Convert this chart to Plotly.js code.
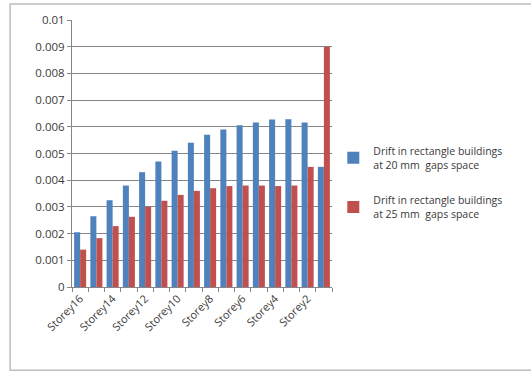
<!DOCTYPE html>
<html>
<head>
<meta charset="utf-8">
<script src="https://cdn.plot.ly/plotly-3.0.1.min.js"></script>
<style>html,body{margin:0;padding:0;background:#fff;}#chart{width:531px;height:373px;}</style>
</head>
<body>
<div id="chart"></div>
<script>
const categories = ["Storey16","Storey15","Storey14","Storey13","Storey12","Storey11","Storey10","Storey9","Storey8","Storey7","Storey6","Storey5","Storey4","Storey3","Storey2","Storey1"];
const tickLabels = ["Storey16","","Storey14","","Storey12","","Storey10","","Storey8","","Storey6","","Storey4","","Storey2",""];
const drift20 = [0.00205,0.00265,0.00325,0.0038,0.0043,0.0047,0.0051,0.0054,0.0057,0.0059,0.00606,0.00616,0.00627,0.00628,0.00616,0.0045];
const drift25 = [0.0014,0.00183,0.00228,0.00263,0.003,0.00323,0.00345,0.0036,0.0037,0.00378,0.0038,0.0038,0.00378,0.0038,0.0045,0.009];
const seriesNames = ["Drift in rectangle buildings<br>at 20 mm  gaps space","Drift in rectangle buildings<br>at 25 mm  gaps space"];

const traces = [
  {type:"bar", x:categories, y:drift20, name:seriesNames[0], legendgroup:"g1", marker:{color:"#4F81BD"}},
  {type:"bar", x:categories, y:drift25, name:seriesNames[1], legendgroup:"g2", marker:{color:"#C0504D"}}
];
const layout = {
  width:531, height:373,
  margin:{l:72, r:199, t:20, b:86},
  paper_bgcolor:"#ffffff", plot_bgcolor:"#ffffff",
  font:{family:"Open Sans, sans-serif", size:11, color:"#3a3a3a"},
  barmode:"group", bargap:0.26, bargroupgap:0,
  showlegend:true,
  legend:{x:1.005, y:0.56, xanchor:"left", yanchor:"top", font:{size:10.5, color:"#3a3a3a"}, tracegroupgap:19, itemwidth:30, bgcolor:"rgba(0,0,0,0)"},
  xaxis:{type:"category", tickvals:categories, ticktext:tickLabels, tickangle:-45, ticks:"outside", tickson:"boundaries", ticklen:4, tickcolor:"#868686", showline:true, linecolor:"#868686", showgrid:false, tickfont:{size:11, color:"#3a3a3a"}},
  yaxis:{range:[0,0.01], dtick:0.001, tick0:0, ticks:"outside", ticklen:4, tickcolor:"#868686", showline:true, linecolor:"#868686", gridcolor:"#868686", gridwidth:1, zeroline:false, tickfont:{size:11.5, color:"#3a3a3a"}},
  shapes:[{type:"rect", xref:"paper", yref:"paper", x0:-0.238, x1:1.78, y0:-0.312, y1:1.06, line:{color:"#bdbdbd", width:1.5}}]
};
Plotly.newPlot("chart", traces, layout, {staticPlot:true, displayModeBar:false});
</script>
</body>
</html>
